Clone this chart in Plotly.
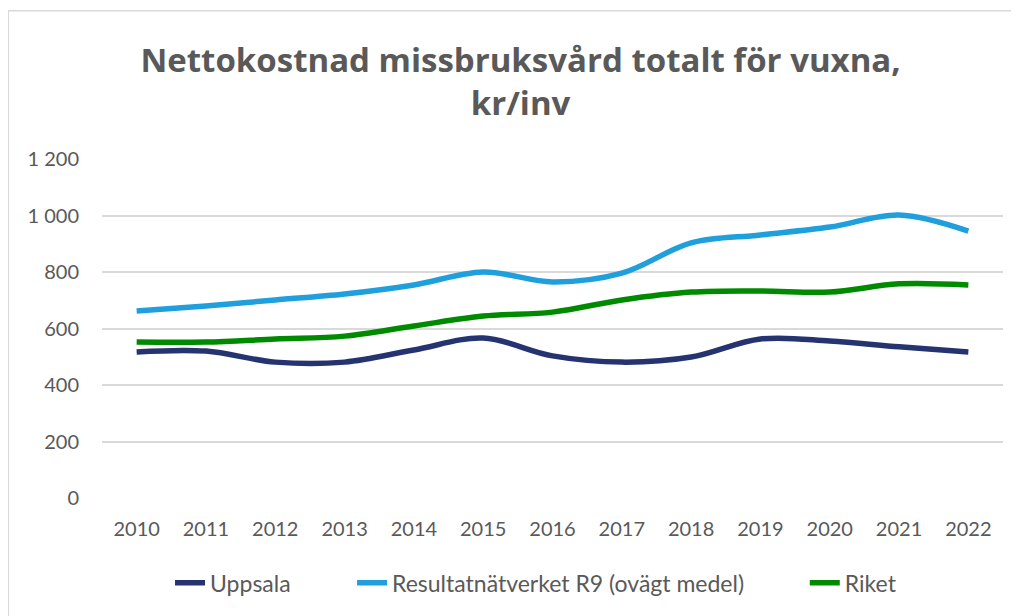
import plotly.graph_objects as go

years = [str(y) for y in range(2010, 2023)]
uppsala = [517, 520, 481, 481, 524, 566, 503, 481, 499, 563, 556, 535, 517]
r9 = [662, 680, 701, 722, 754, 800, 765, 796, 903, 931, 959, 1002, 945]
riket = [552, 552, 563, 573, 609, 644, 658, 701, 729, 733, 729, 758, 754]

y_ticks = [0, 200, 400, 600, 800, 1000, 1200]
y_labels = ["0", "200", "400", "600", "800", "1 000", "1 200"]

FONT = "Lato"
GREY = "#595959"

fig = go.Figure()
series = [
    ("Uppsala", uppsala, "#253370", "legend", 0.0755),
    ("Resultatnätverket R9 (ovägt medel)", r9, "#1F9FDB", "legend2", 0.2775),
    ("Riket", riket, "#008A00", "legend3", 0.780),
]
legends = {}
for name, vals, col, leg, lx in series:
    fig.add_trace(go.Scatter(x=years, y=vals, name=name, mode="lines", legend=leg,
                             line=dict(color=col, width=5.5, shape="spline", smoothing=1)))
    # one legend per entry so the spacing can follow the original
    legends[leg] = dict(orientation="h", x=lx, xanchor="left", y=-0.25, yanchor="middle",
                        font=dict(size=23, color=GREY), bgcolor="rgba(0,0,0,0)")

# page has an 8px body margin, so the figure is drawn a bit smaller
fig.update_layout(
    width=1011, height=608,
    paper_bgcolor="white", plot_bgcolor="white",
    margin=dict(l=94, r=16, t=151, b=110),
    font=dict(family=FONT, color=GREY, size=20),
    title=dict(text="<b>Nettokostnad missbruksvård totalt för vuxna,<br>kr/inv</b>",
               x=0.507, xanchor="center", y=0.895, yanchor="top",
               font=dict(size=33, color=GREY, family="Open Sans")),
    showlegend=True,
    **legends,
)
fig.update_xaxes(type="category", range=[-0.5, 12.5], showgrid=False, showline=False,
                 ticks="", ticklabelstandoff=17, tickfont=dict(size=20, color=GREY))
fig.update_yaxes(range=[0, 1200], tickvals=y_ticks, ticktext=y_labels,
                 gridcolor="#D9D9D9", gridwidth=1.5, zeroline=False, showline=False,
                 ticks="", ticklabelstandoff=22, tickfont=dict(size=20, color=GREY))
fig.add_shape(type="rect", xref="paper", yref="paper", x0=-0.104, x1=1.03, y0=-0.4, y1=1.437,
              line=dict(color="#D9D9D9", width=1.5), fillcolor="rgba(0,0,0,0)", layer="below")
fig.write_html("out.html")
